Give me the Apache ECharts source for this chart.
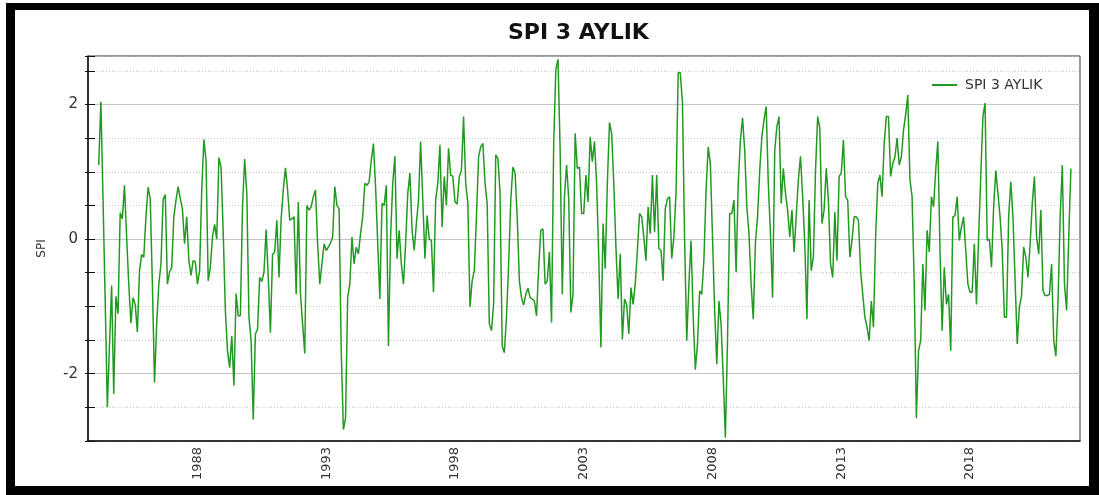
<!DOCTYPE html>
<html>
<head>
    <meta charset="utf-8">
    <script src="https://cdn.jsdelivr.net/npm/echarts@6/dist/echarts.min.js"></script>
    <style>
        body { margin: 0; background: #fff; }
        #main { position: absolute; left: 0; top: 0; width: 1099px; height: 495px; }
        #frame {
            position: absolute; left: 6px; top: 3px; width: 1093px; height: 492px;
            box-sizing: border-box; border: solid #000; border-width: 7px 10px 9px 9px;
            pointer-events: none;
        }
    </style>
</head>
<body>
<div id="main"></div>
<div id="frame"></div>
<script type="text/javascript">
    // SPI 3 aylik, aylik degerler (Mart 1984 - Aralik 2021)
    var startYear = 1984, startMonth = 3;
    var spi1980s = [1.10, 2.04, 0.6, -0.9, -2.50, -1.59, -0.69, -2.30, -0.85, -1.11,
        0.39, 0.30, 0.80, 0.03, -0.67, -1.25, -0.87, -0.97, -1.38, -0.47, -0.23, -0.27,
        0.33, 0.77, 0.60, -0.67, -2.13, -1.26, -0.67, -0.37, 0.59, 0.66, -0.67, -0.49,
        -0.42, 0.33, 0.58, 0.78, 0.60, 0.45, -0.07, 0.33, -0.32, -0.54, -0.32, -0.34,
        -0.67, -0.47, 0.73, 1.48, 1.17, -0.62, -0.42, 0.03, 0.22, 0.0, 1.21, 1.07,
        0.1, -1.06, -1.66, -1.91, -1.44, -2.18, -0.81, -1.14, -1.14, 0.48, 1.19, 0.68];
    var spi1990s = [-1.16, -1.51, -2.68, -1.41, -1.34, -0.57, -0.63, -0.49, 0.14, -0.57, -1.39, -0.23,
        -0.19, 0.28, -0.57, 0.30, 0.73, 1.06, 0.73, 0.28, 0.30, 0.33, -0.82, 0.55,
        -0.82, -1.26, -1.70, 0.50, 0.43, 0.48, 0.63, 0.73, -0.07, -0.67, -0.37, -0.07,
        -0.17, -0.12, -0.06, 0.03, 0.78, 0.50, 0.45, -1.66, -2.83, -2.66, -0.87, -0.67,
        0.03, -0.37, -0.12, -0.22, 0.08, 0.33, 0.83, 0.80, 0.85, 1.17, 1.42, 0.78,
        -0.07, -0.89, 0.53, 0.50, 0.80, -1.59, 0.03, 0.83, 1.23, -0.29, 0.13, -0.37,
        -0.67, -0.07, 0.68, 0.98, 0.13, -0.17, 0.23, 0.58, 1.45, 0.58, -0.29, 0.35,
        0.0, -0.02, -0.79, 0.58, 0.83, 1.40, 0.18, 0.93, 0.50, 1.35, 0.95, 0.93,
        0.55, 0.52, 0.93, 1.02, 1.82, 0.83, 0.53, -1.01, -0.62, -0.47, 0.33, 1.22,
        1.37, 1.42, 0.83, 0.53, -1.26, -1.36, -0.97, 1.25, 1.20, 0.68, -1.59, -1.69];
    var spi2000s = [-1.16, -0.37, 0.58, 1.07, 0.98, 0.33, -0.62, -0.87, -0.98, -0.82, -0.73, -0.87,
        -0.89, -0.92, -1.14, -0.42, 0.13, 0.15, -0.67, -0.62, -0.19, -1.24, 1.42, 2.52,
        2.67, 1.32, -0.82, 0.63, 1.10, 0.6, -1.09, -0.82, 1.57, 1.05, 1.07, 0.38,
        0.38, 0.95, 0.55, 1.52, 1.15, 1.45, 0.83, -0.27, -1.61, 0.23, -0.44, 0.83,
        1.73, 1.57, 0.83, -0.12, -0.89, -0.22, -1.49, -0.89, -0.97, -1.41, -0.72, -0.97,
        -0.67, -0.17, 0.38, 0.33, 0.03, -0.32, 0.48, 0.08, 0.95, 0.10, 0.95, -0.14,
        -0.17, -0.62, 0.45, 0.60, 0.63, -0.29, 0.03, 0.68, 2.47, 2.47, 2.02, -0.02,
        -1.51, -0.67, -0.02, -1.16, -1.94, -1.56, -0.77, -0.82, -0.3, 0.73, 1.37, 1.12,
        0.03, -1.06, -1.86, -0.92, -1.26, -2.06, -2.95, -1.5, 0.38, 0.38, 0.58, -0.49,
        0.83, 1.47, 1.80, 1.32, 0.48, 0.08, -0.67, -1.19, -0.05, 0.33, 1.02, 1.52];
    var spi2010s = [1.77, 1.97, 0.83, 0.08, -0.87, 1.32, 1.67, 1.82, 0.53, 1.05, 0.68, 0.43,
        0.03, 0.43, -0.19, 0.33, 0.88, 1.23, 0.63, -0.07, -1.19, 0.58, -0.47, -0.27,
        1.02, 1.82, 1.65, 0.23, 0.43, 1.05, 0.58, -0.37, -0.57, 0.40, -0.32, 0.93,
        0.98, 1.47, 0.63, 0.58, -0.27, -0.02, 0.33, 0.33, 0.28, -0.47, -0.82, -1.16,
        -1.31, -1.51, -0.92, -1.31, 0.03, 0.83, 0.95, 0.63, 1.42, 1.82, 1.82, 0.93,
        1.12, 1.22, 1.50, 1.10, 1.22, 1.62, 1.85, 2.14, 0.88, 0.63, -0.67, -2.66,
        -1.66, -1.51, -0.37, -1.06, 0.13, -0.19, 0.63, 0.48, 1.02, 1.45, -0.17, -1.36,
        -0.42, -0.97, -0.82, -1.66, 0.33, 0.35, 0.63, -0.02, 0.18, 0.33, -0.17, -0.67,
        -0.79, -0.79, -0.07, -0.97, 0.03, 0.93, 1.82, 2.02, -0.02, 0.0, -0.42, 0.48,
        1.02, 0.68, 0.33, -0.17, -1.16, -1.16, 0.33, 0.85, 0.33, -0.62, -1.56, -1.01];
    var spi2020s = [-0.84, -0.12, -0.27, -0.57, -0.07, 0.53, 0.93, 0.03, -0.22, 0.43, -0.77, -0.84,
        -0.84, -0.82, -0.37, -1.51, -1.74, -0.92, 0.33, 1.10, -0.67, -1.06, 0.03, 1.05];
    var tickYears = [1988, 1993, 1998, 2003, 2008, 2013, 2018];
    var yLabels = [-2, 0, 2];
    var seriesName = 'SPI 3 AYLIK';

    var spiValues = spi1980s.concat(spi1990s, spi2000s, spi2010s, spi2020s);
    // x = ondalikli yil (ay basi)
    var points = spiValues.map(function (v, i) {
        return [startYear + (startMonth - 1 + i) / 12, v];
    });

    var font = 'DejaVu Sans';
    var lineColor = '#229a22';
    var myChart = echarts.init(document.getElementById('main'), null, {renderer: 'canvas'});
    var option = {
        backgroundColor: '#fff',
        animation: false,
        textStyle: {fontFamily: font},
        title: {
            text: seriesName, left: 508, top: 22, padding: 0,
            textStyle: {fontSize: 22, fontWeight: 'bold', color: '#111', fontFamily: font}
        },
        legend: {
            data: [{name: seriesName, icon: 'rect'}], left: 932, top: 78, padding: 0,
            itemWidth: 25, itemHeight: 2,
            itemStyle: {color: lineColor},
            textStyle: {fontSize: 14, color: '#333', fontFamily: font, padding: [0, 0, 0, 3]}
        },
        grid: {left: 88, top: 56, right: 19, bottom: 54, show: true, borderColor: '#333', borderWidth: 1},
        xAxis: {
            type: 'value', min: 1983.75, max: 2022.27,
            axisLine: {onZero: false, lineStyle: {color: '#111', width: 1.5}},
            axisTick: {show: false},
            splitLine: {show: false},
            axisLabel: {
                customValues: tickYears, rotate: 90, margin: 6,
                fontSize: 13, color: '#333', fontFamily: font,
                formatter: function (v) { return String(Math.round(v)); }
            }
        },
        yAxis: [
            {
                type: 'value', min: -3, max: 2.72, interval: 0.5,
                name: 'SPI', nameLocation: 'middle', nameGap: 40, nameRotate: 90,
                nameTextStyle: {fontSize: 12, color: '#333', fontFamily: font},
                axisLine: {show: true, lineStyle: {color: '#111', width: 1.5}},
                axisTick: {show: true, length: 3, lineStyle: {color: '#111'}},
                axisLabel: {
                    fontSize: 15, color: '#333', margin: 10, fontFamily: font,
                    formatter: function (v) { return yLabels.indexOf(v) >= 0 ? String(v) : ''; }
                },
                splitLine: {show: true, lineStyle: {color: '#c8c8c8', type: [1, 2]}}
            },
            {
                // duz cizgiler -2, 0, 2
                type: 'value', min: -3, max: 2.72, interval: 0.5, position: 'left',
                axisLine: {show: false},
                axisTick: {show: true, inside: true, length: 7, lineStyle: {color: '#111'}},
                axisLabel: {show: false},
                splitLine: {
                    show: true,
                    lineStyle: {color: ['rgba(0,0,0,0)', 'rgba(0,0,0,0)', '#c4c4c4', 'rgba(0,0,0,0)'], width: 1}
                }
            }
        ],
        series: [
            {
                name: seriesName, type: 'line', data: points,
                symbol: 'none', showSymbol: false,
                lineStyle: {color: lineColor, width: 1.5},
                itemStyle: {color: lineColor}
            }
        ]
    };
    myChart.setOption(option);
</script>
</body>
</html>
